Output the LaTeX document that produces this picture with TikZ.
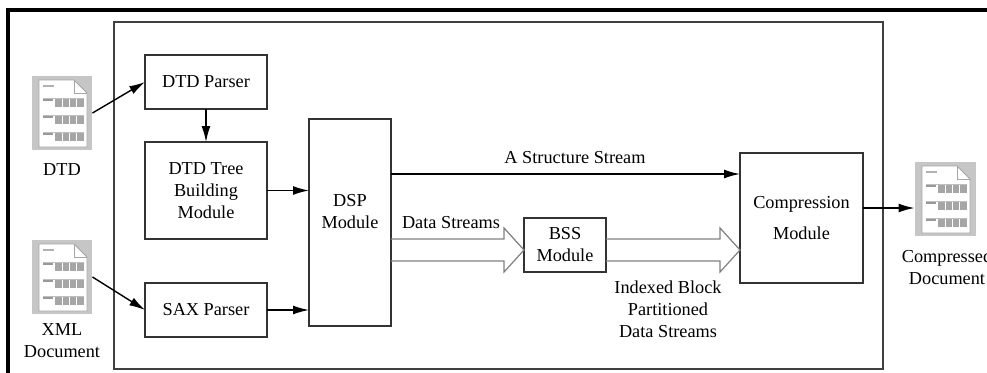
\documentclass[tikz,border=0pt]{standalone}
\usepackage{fontspec}
\setmainfont{Liberation Serif}
\usetikzlibrary{arrows.meta,calc}

\tikzset{
  box/.style={draw=black!80, line width=0.8pt, align=center, inner sep=0pt, outer sep=0pt},
  docicon/.style={fill=gray!45, minimum width=1.22cm, minimum height=1.5cm, inner sep=0pt, outer sep=0pt},
  arr/.style={-{Latex[length=9pt,width=5pt]}, line width=0.8pt},
  hollow/.style={draw=gray, line width=0.7pt},
  lbl/.style={align=center, inner sep=0pt}
}

% page drawn on top of a document icon
\newcommand{\docpage}[1]{%
  \fill[white] ($(#1)+(-23,-33)$) -- ($(#1)+(12,-33)$) -- ($(#1)+(25,-20)$) -- ($(#1)+(25,34)$) -- ($(#1)+(-23,34)$) -- cycle;
  \draw[gray!70, line width=0.5pt] ($(#1)+(-23,-33)$) -- ($(#1)+(12,-33)$) -- ($(#1)+(25,-20)$) -- ($(#1)+(25,34)$) -- ($(#1)+(-23,34)$) -- cycle;
  \draw[gray!70, line width=0.5pt] ($(#1)+(12,-33)$) -- ($(#1)+(12,-20)$) -- ($(#1)+(25,-20)$);
  \draw[gray!60, line width=0.6pt] ($(#1)+(-19,-27)$) -- ($(#1)+(-8,-27)$);
  \foreach \r in {-11,6,23}{
    \draw[gray!50, line width=0.4pt] ($(#1)+(-19,\r-4)$) -- ($(#1)+(22,\r-4)$);
    \draw[gray!80, line width=1pt] ($(#1)+(-19,\r-2)$) -- ($(#1)+(-9,\r-2)$);
    \fill[gray!70] ($(#1)+(-7,\r-3)$) rectangle ($(#1)+(22,\r+5)$);
    \foreach \s in {0,7,14}
      \draw[white, line width=0.3pt] ($(#1)+(\s,\r-3)$) -- ($(#1)+(\s,\r+5)$);
  }
}

% hollow block arrow
\newcommand{\fatarrow}[2]{%
  \draw[hollow] ($(#1)+(0,-11)$) -- ($(#2)+(-20,-11)$) -- ($(#2)+(-20,-22)$) -- (#2)
    -- ($(#2)+(-20,22)$) -- ($(#2)+(-20,11)$) -- ($(#1)+(0,11)$);
}

\begin{document}
\begin{tikzpicture}[x=0.02cm, y=-0.02cm, font=\rmfamily\fontsize{10.4}{12.5}\selectfont]
  \useasboundingbox (0,0) rectangle (987,372);

  % frames
  \draw[line width=1.8pt] (1000,10) -- (8,10) -- (8,390);
  \draw[black!75, line width=0.8pt] (114,22) rectangle (883,369);

  % documents
  \node[docicon] (dtd) at (62,113) {};
  \docpage{dtd}
  \node[lbl] (dtdlbl) at (62,170) {DTD};
  \node[docicon] (xml) at (62,277) {};
  \docpage{xml}
  \node[lbl] (xmllbl) at (62,341) {XML\\Document};
  \node[docicon] (cdoc) at (945,199) {};
  \docpage{cdoc}
  \node[lbl] (cdoclbl) at (947,267) {Compressed\\Document};

  % modules
  \node[box, minimum width=2.44cm, minimum height=1.08cm] (dtdp) at (206,82) {DTD Parser};
  \node[box, minimum width=2.44cm, minimum height=1.94cm] (tree) at (206,190.5) {DTD Tree\\Building\\Module};
  \node[box, minimum width=2.44cm, minimum height=1.08cm] (sax) at (206,310) {SAX Parser};
  \node[box, minimum width=1.64cm, minimum height=4.14cm,
        label={[lbl, yshift=0.22cm]center:{DSP\\Module}}] (dsp) at (350,222.5) {};
  \node[box, minimum width=1.64cm, minimum height=1.08cm] (bss) at (565,245) {BSS\\Module};
  \node[box, minimum width=2.46cm, minimum height=2.6cm] (comp) at (801.5,218) {Compression\\[5.5pt]Module};

  \coordinate (ss) at (0,174);
  \coordinate (fs) at (0,250);
  \coordinate (cs) at (0,208);

  % connectors
  \draw[arr] (dtd.east) -- (dtdp.west);
  \draw[arr] (xml.east) -- (sax.west);
  \draw[arr] (dtdp.south) -- (tree.north);
  \draw[arr] (tree.east) -- (dsp.west |- tree.east);
  \draw[arr] (sax.east) -- (dsp.west |- sax.east);
  \draw[arr] (dsp.east |- ss) -- (comp.west |- ss);
  \draw[arr] (comp.east |- cs) -- (cdoc.west |- cs);
  \fatarrow{dsp.east |- fs}{bss.west |- fs}
  \fatarrow{bss.east |- fs}{comp.west |- fs}

  % stream labels
  \node[lbl] (sslbl) at (575,158) {A Structure Stream};
  \node[lbl] (dslbl) at (451,223) {Data Streams};
  \node[lbl] (iblbl) at (668,309) {Indexed Block\\Partitioned\\Data Streams};
\end{tikzpicture}
\end{document}
